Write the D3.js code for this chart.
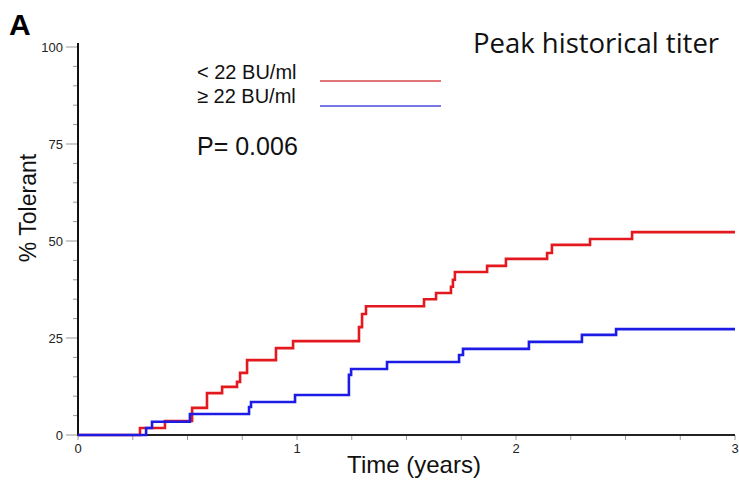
<!DOCTYPE html>
<html>
<head>
<meta charset="utf-8">
<script src="https://cdnjs.cloudflare.com/ajax/libs/d3/7.8.5/d3.min.js"></script>
<style>
  body { margin: 0; background: #fff; }
  svg { display: block; }
</style>
</head>
<body>
<script>
// Step curves (time in years, % tolerant)
const lowTimes = [0, 0.283, 0.397, 0.521, 0.589, 0.658, 0.726, 0.740, 0.772, 0.904, 0.982,
  1.283, 1.297, 1.315, 1.580, 1.635, 1.703, 1.712, 1.721, 1.868, 1.954,
  2.142, 2.164, 2.338, 2.530, 3.0];
const lowValues = [0, 1.8, 3.6, 7.0, 10.8, 12.4, 13.7, 16.0, 19.3, 22.4, 24.2,
  27.8, 31.2, 33.2, 35.0, 36.6, 38.2, 40.0, 42.0, 43.6, 45.4,
  46.9, 49.0, 50.5, 52.3, 52.3];

const highTimes = [0, 0.311, 0.338, 0.511, 0.781, 0.790, 0.991, 1.237, 1.247, 1.411,
  1.740, 1.758, 2.059, 2.301, 2.457, 3.0];
const highValues = [0, 1.8, 3.4, 5.4, 7.2, 8.5, 10.3, 15.5, 17.0, 18.8,
  20.6, 22.2, 24.0, 25.8, 27.3, 27.3];

const seriesNames = ['< 22 BU/ml', '≥ 22 BU/ml'];
const seriesColors = ['#e3191f', '#1c1ce6'];
const legendColors = ['#d9474b', '#4a4ae0'];
const xTicks = [0, 1, 2, 3];
const yTicks = [0, 25, 50, 75, 100];

const width = 739;
const height = 481;

const svg = d3.select('body').append('svg')
    .attr('width', width)
    .attr('height', height);

// scales
const x = d3.scaleLinear().domain([0, 3]).range([78, 735]);
const y = d3.scaleLinear().domain([0, 100]).range([435, 47]);

// minor ticks (every 5% and every quarter year)
const yMinor = d3.range(0, 101, 5);
const xMinor = d3.range(0, 3.01, 0.25);

svg.append('g')
    .selectAll('line')
    .data(yMinor)
    .join('line')
    .attr('x1', (d) => x(0) - (d % 25 === 0 ? 12 : 5))
    .attr('x2', x(0))
    .attr('y1', (d) => y(d))
    .attr('y2', (d) => y(d))
    .attr('stroke', '#999')
    .attr('stroke-width', 1);

svg.append('g')
    .selectAll('line')
    .data(xMinor)
    .join('line')
    .attr('x1', (d) => x(d))
    .attr('x2', (d) => x(d))
    .attr('y1', y(0))
    .attr('y2', y(0) + 5)
    .attr('stroke', '#999')
    .attr('stroke-width', 1);

// tick labels
svg.append('g')
    .selectAll('text')
    .data(yTicks)
    .join('text')
    .attr('x', x(0) - 15)
    .attr('y', (d) => y(d) + 5)
    .attr('text-anchor', 'end')
    .style('font', '13px "Liberation Sans", Arial, sans-serif')
    .attr('fill', '#222')
    .text((d) => d);

svg.append('g')
    .selectAll('text')
    .data(xTicks)
    .join('text')
    .attr('x', (d) => x(d))
    .attr('y', y(0) + 18)
    .attr('text-anchor', 'middle')
    .style('font', '13px "Liberation Sans", Arial, sans-serif')
    .attr('fill', '#222')
    .text((d) => d);

// axis lines
svg.append('line')
    .attr('x1', x(0)).attr('x2', x(0))
    .attr('y1', y(0) + 1).attr('y2', y(100) - 4)
    .attr('stroke', '#111').attr('stroke-width', 2);
svg.append('line')
    .attr('x1', x(0) - 1).attr('x2', x(3))
    .attr('y1', y(0)).attr('y2', y(0))
    .attr('stroke', '#222').attr('stroke-width', 2);

// curves
const line = d3.line()
    .x((d) => x(d[0]))
    .y((d) => y(d[1]))
    .curve(d3.curveStepAfter);

const curves = [
    d3.zip(lowTimes, lowValues),
    d3.zip(highTimes, highValues),
];

svg.append('g')
    .selectAll('path')
    .data(curves)
    .join('path')
    .attr('d', line)
    .attr('fill', 'none')
    .attr('stroke', (d, i) => seriesColors[i])
    .attr('stroke-width', 2.6);

// legend
const legend = svg.append('g');
seriesNames.forEach((name, i) => {
    legend.append('text')
        .attr('x', 197)
        .attr('y', 79 + i * 24)
        .style('font', '20px "Liberation Sans", Arial, sans-serif')
        .attr('fill', '#111')
        .text(name);
    legend.append('line')
        .attr('x1', 320).attr('x2', 441)
        .attr('y1', 81 + i * 25).attr('y2', 81 + i * 25)
        .attr('stroke', legendColors[i])
        .attr('stroke-width', 1.4);
});

svg.append('text')
    .attr('x', 197)
    .attr('y', 155)
    .style('font', '25px "Liberation Sans", Arial, sans-serif')
    .attr('fill', '#111')
    .text('P= 0.006');

// titles
svg.append('text')
    .attr('x', 473)
    .attr('y', 53)
    .style('font', '27.5px "Open Sans", "Noto Sans", sans-serif')
    .attr('fill', '#111')
    .text('Peak historical titer');

svg.append('text')
    .attr('x', 9)
    .attr('y', 35)
    .style('font', 'bold 30px "Liberation Sans", Arial, sans-serif')
    .attr('fill', '#000')
    .text('A');

svg.append('text')
    .attr('transform', 'translate(36,208) rotate(-90)')
    .attr('text-anchor', 'middle')
    .style('font', '23px "Liberation Sans", Arial, sans-serif')
    .attr('fill', '#111')
    .text('% Tolerant');

svg.append('text')
    .attr('x', 414)
    .attr('y', 473)
    .attr('text-anchor', 'middle')
    .style('font', '24px "Liberation Sans", Arial, sans-serif')
    .attr('fill', '#111')
    .text('Time (years)');
</script>
</body>
</html>
